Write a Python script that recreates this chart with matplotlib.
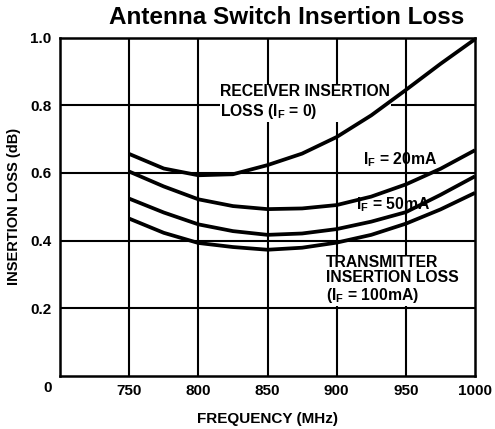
import matplotlib
matplotlib.use("Agg")
import matplotlib.pyplot as plt

plt.rcParams['font.family'] = ['Liberation Sans', 'DejaVu Sans']
plt.rcParams['font.weight'] = 'bold'

freq = [750, 775, 800, 825, 850, 875, 900, 925, 950, 975, 1000]
receiver = [0.656, 0.613, 0.593, 0.596, 0.623, 0.657, 0.706, 0.770, 0.845, 0.922, 0.995]
if_20ma = [0.604, 0.560, 0.522, 0.502, 0.493, 0.495, 0.505, 0.530, 0.566, 0.612, 0.667]
if_50ma = [0.524, 0.483, 0.448, 0.428, 0.417, 0.421, 0.434, 0.456, 0.484, 0.535, 0.590]
if_100ma = [0.465, 0.423, 0.393, 0.381, 0.373, 0.379, 0.394, 0.417, 0.450, 0.492, 0.541]

xticks = [750, 800, 850, 900, 950, 1000]
yticks = [0.2, 0.4, 0.6, 0.8, 1.0]

fig = plt.figure(figsize=(4.95, 4.29), dpi=100)
ax = fig.add_axes([60/495, 1-376/429, (475-60)/495, (376-37.5)/429])
ax.set_xlim(700, 1000)
ax.set_ylim(0, 1.0)

for x in xticks[:-1]:
    ax.axvline(x, color='black', lw=1.5, zorder=1)
for y in yticks[:-1]:
    ax.axhline(y, color='black', lw=1.5, zorder=1)

for s in [receiver, if_20ma, if_50ma, if_100ma]:
    ax.plot(freq, s, color='black', lw=2.7, solid_capstyle='butt', zorder=3)

for sp in ax.spines.values():
    sp.set_linewidth(1.8)

fs = 11
ax.set_xticks(xticks)
ax.set_xticklabels([str(v) for v in xticks], fontsize=fs, fontweight='bold')
ax.set_yticks(yticks)
ax.set_yticklabels(['%.1f' % v for v in yticks], fontsize=fs, fontweight='bold')
ax.tick_params(length=0, pad=6)
ax.text(-0.03, -0.035, '0', transform=ax.transAxes, ha='center', va='center',
        fontsize=fs, fontweight='bold')

ax.set_xlabel('FREQUENCY (MHz)', fontsize=11, fontweight='bold', labelpad=10)
ax.set_ylabel('INSERTION LOSS (dB)', fontsize=10.5, fontweight='bold', labelpad=7)
fig.suptitle('Antenna Switch Insertion Loss', fontsize=17.5, fontweight='bold',
             x=(105+468)/2/495, y=1-18/429, va='center')

bbox = dict(facecolor='white', edgecolor='none', pad=0.5)
ax.text(816, 0.808, 'RECEIVER INSERTION\nLOSS (I$_\\mathregular{F}$ = 0)', fontsize=11.3,
        fontweight='bold', ha='left', va='center', linespacing=1.2, bbox=bbox, zorder=2)
ax.text(946, 0.638, 'I$_\\mathregular{F}$ = 20mA', fontsize=11.3, fontweight='bold',
        ha='center', va='center', zorder=4)
ax.text(941, 0.505, 'I$_\\mathregular{F}$ = 50mA', fontsize=11.3, fontweight='bold',
        ha='center', va='center', zorder=4)
ax.text(892, 0.284, 'TRANSMITTER\nINSERTION LOSS\n(I$_\\mathregular{F}$ = 100mA)', fontsize=11.3,
        fontweight='bold', ha='left', va='center', linespacing=1.05, bbox=bbox, zorder=2)

fig.savefig('out.png', dpi=100)
